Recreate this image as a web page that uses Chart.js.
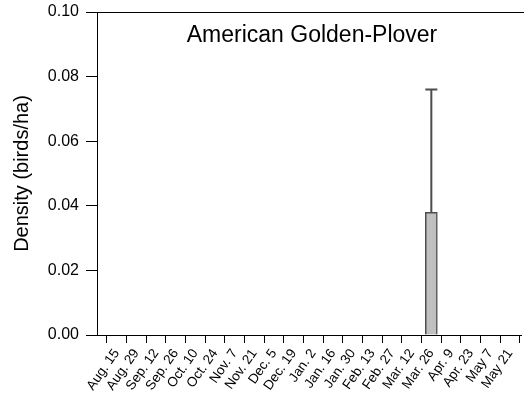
<!DOCTYPE html>
<html>
<head>
<meta charset="utf-8">
<title>American Golden-Plover</title>
<script src="https://cdn.jsdelivr.net/npm/chart.js@4"></script>
<style>
    html, body { margin: 0; padding: 0; background: #fff; }
    #wrap { width: 524px; height: 409px; }
</style>
</head>
<body>
<div id="wrap"><canvas id="densityChart"></canvas></div>
<script>
// Survey dates (x categories)
const surveyDates = ["Aug. 15", "Aug. 29", "Sep. 12", "Sep. 26", "Oct. 10", "Oct. 24", "Nov. 7",
    "Nov. 21", "Dec. 5", "Dec. 19", "Jan. 2", "Jan. 16", "Jan. 30", "Feb. 13", "Feb. 27",
    "Mar. 12", "Mar. 26", "Apr. 9", "Apr. 23", "May 7", "May 21"];

// Mean density (birds/ha) and its error (upper whisker length)
const densityValues = [0, 0, 0, 0, 0, 0, 0, 0, 0, 0, 0, 0, 0, 0, 0, 0, 0.038, 0, 0, 0, 0];
const densityErrors = [0, 0, 0, 0, 0, 0, 0, 0, 0, 0, 0, 0, 0, 0, 0, 0, 0.038, 0, 0, 0, 0];

const yTickValues = [0, 0.02, 0.04, 0.06, 0.08, 0.10];
const chartTitle = "American Golden-Plover";
const yAxisTitle = "Density (birds/ha)";

const FONT = "'Liberation Sans', Arial, Helvetica, sans-serif";

// Error bars (upper only), drawn on top of the bars
const errorBarPlugin = {
    id: "errorBars",
    afterDatasetsDraw(chart) {
        const { ctx, scales: { x, y } } = chart;
        const meta = chart.getDatasetMeta(0);
        ctx.save();
        ctx.strokeStyle = "#4d4d4d";
        ctx.lineWidth = 2;
        densityErrors.forEach((err, i) => {
            if (!err) return;
            const cx = x.getPixelForValue(i);
            const yBase = y.getPixelForValue(densityValues[i]);
            const yTop = y.getPixelForValue(densityValues[i] + err);
            const half = meta.data[i].width / 2;
            ctx.beginPath();
            ctx.moveTo(cx, yBase);
            ctx.lineTo(cx, yTop);
            ctx.moveTo(cx - half, yTop);
            ctx.lineTo(cx + half, yTop);
            ctx.stroke();
        });
        ctx.restore();
    }
};

// Top frame line and the title inside the plot
const frameTitlePlugin = {
    id: "frameTitle",
    afterDraw(chart) {
        const { ctx, chartArea } = chart;
        ctx.save();
        ctx.strokeStyle = "#000";
        ctx.lineWidth = 1;
        ctx.beginPath();
        ctx.moveTo(chartArea.left, Math.round(chartArea.top) + 0.5);
        ctx.lineTo(chart.width, Math.round(chartArea.top) + 0.5);
        ctx.stroke();

        ctx.fillStyle = "#000";
        ctx.font = "23px " + FONT;
        ctx.textAlign = "center";
        ctx.textBaseline = "alphabetic";
        ctx.fillText(chartTitle, (chartArea.left + chartArea.right) / 2 + 3, chartArea.top + 30);
        ctx.restore();
    }
};

new Chart(document.getElementById("densityChart"), {
    type: "bar",
    data: {
        datasets: [{
            label: yAxisTitle,
            data: densityValues.map((v, i) => ({ x: i, y: v })),
            backgroundColor: "#c0c0c0",
            borderColor: "#4d4d4d",
            borderWidth: 1.5,
            borderSkipped: "start",
            barThickness: 12
        }]
    },
    options: {
        responsive: true,
        maintainAspectRatio: false,
        animation: false,
        events: [],
        layout: { padding: { left: 0, top: 12, right: 3, bottom: 0 } },
        plugins: {
            legend: { display: false },
            tooltip: { enabled: false },
            title: { display: false }
        },
        scales: {
            x: {
                type: "linear",
                offset: false,
                min: -1,
                max: 20.56,
                afterBuildTicks: (scale) => {
                    scale.ticks = surveyDates.map((_, i) => ({ value: i }));
                },
                afterFit: (scale) => {
                    scale.height = 74;
                    scale.paddingLeft = 0;
                    scale.paddingRight = 0;
                },
                ticks: {
                    autoSkip: false,
                    minRotation: 55,
                    maxRotation: 55,
                    padding: 3,
                    color: "#000",
                    font: { family: FONT, size: 13.5 },
                    callback: (value) => surveyDates[value]
                },
                grid: {
                    drawOnChartArea: false,
                    drawTicks: true,
                    tickLength: 8,
                    color: "#000",
                    lineWidth: 1
                },
                border: { display: true, color: "#000", width: 1 }
            },
            y: {
                min: 0,
                max: 0.10,
                afterBuildTicks: (scale) => {
                    scale.ticks = yTickValues.map(v => ({ value: v }));
                },
                afterFit: (scale) => {
                    scale.width = 97;
                    scale.paddingTop = 0;
                    scale.paddingBottom = 0;
                },
                ticks: {
                    padding: 7,
                    color: "#000",
                    font: { family: FONT, size: 16 },
                    callback: (value) => value.toFixed(2)
                },
                grid: {
                    drawOnChartArea: false,
                    drawTicks: true,
                    tickLength: 11,
                    color: "#000",
                    lineWidth: 1
                },
                border: { display: true, color: "#000", width: 1 },
                title: {
                    display: true,
                    text: yAxisTitle,
                    color: "#000",
                    font: { family: FONT, size: 20 },
                    padding: { top: 10, bottom: 0 }
                }
            }
        }
    },
    plugins: [errorBarPlugin, frameTitlePlugin]
});
</script>
</body>
</html>
